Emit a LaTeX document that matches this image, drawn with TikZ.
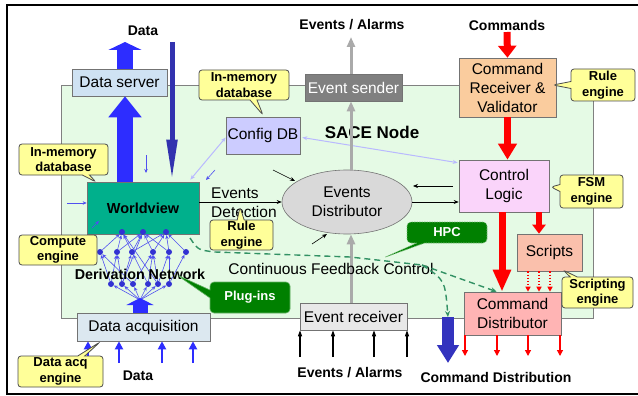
\documentclass[tikz,border=0pt]{standalone}
\usepackage{fontspec}
\setmainfont{Liberation Sans}
\usetikzlibrary{arrows.meta,shapes.geometric,shapes.callouts,calc}
\definecolor{sacegreen}{RGB}{229,250,229}
\definecolor{dsblue}{RGB}{207,226,243}
\definecolor{brightblue}{RGB}{45,45,255}
\definecolor{darkblue}{RGB}{50,50,175}
\definecolor{netblue}{RGB}{80,80,240}
\definecolor{dotblue}{RGB}{50,50,210}
\definecolor{wvgreen}{RGB}{0,176,140}
\definecolor{cfgblue}{RGB}{204,204,255}
\definecolor{lavline}{RGB}{185,185,255}
\definecolor{edgray}{RGB}{217,217,217}
\definecolor{esgray}{RGB}{128,128,128}
\definecolor{arrgray}{RGB}{170,170,170}
\definecolor{crpeach}{RGB}{250,204,158}
\definecolor{clpink}{RGB}{250,212,250}
\definecolor{scsalmon}{RGB}{250,192,172}
\definecolor{cdpink}{RGB}{255,180,180}
\definecolor{ergray}{RGB}{232,232,232}
\definecolor{dagray}{RGB}{220,232,240}
\definecolor{calyellow}{RGB}{255,255,153}
\definecolor{plugreen}{RGB}{0,128,0}
\definecolor{dashgreen}{RGB}{50,145,100}
\definecolor{cdblue}{RGB}{51,51,190}
\newcommand\boxfont{\fontsize{15.5}{19}\selectfont}
\newcommand\calfont{\fontsize{13}{15.5}\selectfont\bfseries}
\newcommand\lblfont{\fontsize{14}{17}\selectfont\bfseries}
\begin{document}
\begin{tikzpicture}[x=1pt,y=-1pt,
  box/.style={draw=black!55, line width=0.6pt, inner sep=0pt, align=center, font=\boxfont},
  cal/.style={rectangle callout, draw=black!70, fill=calyellow, rounded corners=3pt, line width=0.8pt, align=center, font=\calfont, inner sep=0pt, callout pointer width=7pt},
  gcal/.style={rectangle callout, draw=plugreen!60, fill=plugreen, rounded corners=4pt, line width=0.6pt, align=center, font=\calfont, text=white, inner sep=0pt, callout pointer width=8pt},
  lbl/.style={font=\lblfont, inner sep=0pt},
  txt/.style={font=\boxfont, inner sep=0pt},
  thinblue/.style={-{Stealth[length=4pt,width=3.5pt]}, draw=netblue, line width=0.6pt},
  thinblack/.style={-{Stealth[length=5pt,width=4pt]}, line width=0.6pt},
  lavarr/.style={{Stealth[length=5pt,width=4pt]}-{Stealth[length=5pt,width=4pt]}, draw=lavline, line width=1pt},
  grayarr/.style={-{Triangle[length=10pt,width=8pt]}, draw=arrgray, line width=3pt},
  redthick/.style={-{Triangle[length=12pt,width=18pt]}, draw=red, line width=7pt},
  redthin/.style={-{Triangle[length=6pt,width=6pt]}, draw=red, line width=1.2pt},
  datain/.style={-{Triangle[length=8pt,width=8pt]}, draw=brightblue, line width=2.5pt},
  evin/.style={-{Triangle[length=6pt,width=4pt]}, line width=1.2pt},
  dashg/.style={draw=dashgreen, line width=1.4pt, dash pattern=on 6pt off 4pt},
  dnode/.style={circle, fill=dotblue, inner sep=0pt, minimum size=6pt}
]
\useasboundingbox (0,0) rectangle (638,396);
\draw[line width=2pt] (638,5) -- (7,5) -- (7,394) -- (638,394);

% SACE node area
\node[draw=black!50, line width=0.6pt, fill=sacegreen, minimum width=532pt, minimum height=233pt, inner sep=0pt, anchor=north west] (sace) at (61,85) {};
\node[font=\fontsize{17}{20}\selectfont\bfseries, inner sep=0pt] (sacelbl) at (372,132) {SACE Node};

% coordinates for free ends
\coordinate (bx) at (125,0);
\coordinate (dataout) at (125,42);
\coordinate (din) at (172,42);
\coordinate (gx) at (351,0);
\coordinate (evout) at (351,37);
\coordinate (cmdin) at (507,32);
\coordinate (cdstart) at (448,317);
\coordinate (cdtip) at (448,363);

% boxes
\node[box, fill=dsblue, minimum width=95pt, minimum height=27pt] (ds) at (119.5,82.5) {Data server};
\node[box, fill=wvgreen, minimum width=112pt, minimum height=52pt, font=\fontsize{14.5}{17}\selectfont\bfseries] (wv) at (143,208) {Worldview};
\node[box, fill=cfgblue, minimum width=74pt, minimum height=37pt] (cfg) at (263,135.5) {Config DB};
\node[box, fill=esgray, text=white, minimum width=97pt, minimum height=27pt] (es) at (353.5,87.5) {Event sender};
\node[ellipse, draw=black!55, line width=0.6pt, fill=edgray, minimum width=130pt, minimum height=64pt, inner sep=0pt, align=center, font=\boxfont] (ed) at (347,202) {Events\\Distributor};
\node[box, fill=crpeach, minimum width=97pt, minimum height=59pt] (cr) at (507.5,87.5) {Command\\Receiver \&\\Validator};
\node[box, fill=clpink, minimum width=90pt, minimum height=52pt] (cl) at (504,186) {Control\\Logic};
\node[box, fill=scsalmon, minimum width=65pt, minimum height=37pt] (sc) at (549.5,252.5) {Scripts};
\node[box, fill=cdpink, minimum width=97pt, minimum height=43pt] (cd) at (512.5,313.5) {Command\\Distributor};
\node[box, fill=ergray, minimum width=107pt, minimum height=27pt] (er) at (353.5,316.5) {Event receiver};
\node[box, fill=dagray, minimum width=133pt, minimum height=28pt] (da) at (143.5,327) {Data acquisition};

% big blue arrows
\draw[-{Triangle[length=21pt,width=32pt]}, draw=brightblue, line width=16pt] (wv.north -| bx) -- (ds.south -| bx);
\draw[-{Triangle[length=8pt,width=33pt]}, draw=brightblue, line width=16pt] (ds.north -| bx) -- (dataout);
\draw[-{Triangle[length=42pt,width=10pt]}, draw=darkblue, line width=5pt] (din) -- (wv.north -| din);
\node[lbl] (datatop) at (143,31) {Data};

% small blue arrows around worldview
\coordinate (sa1) at (146,155); \coordinate (sa1e) at (146,173);
\coordinate (sa2) at (215,170); \coordinate (sa2e) at (206,180);
\coordinate (sa3) at (67,203);
\coordinate (sa4) at (92,228); \coordinate (sa4e) at (99,221);
\draw[thinblue] (sa1) -- (sa1e);
\draw[thinblue] (sa2) -- (sa2e);
\draw[thinblue] (sa3) -- (sa3 -| wv.west);
\draw[thinblue] (sa4) -- (sa4e);

% lavender links
\draw[lavarr] ($(wv.north east)+(-9,-2)$) -- ($(cfg.west)+(0,2)$);
\draw[lavarr] ($(cfg.east)+(2,2)$) -- ($(cl.north west)+(-1,3)$);

% derivation network
\foreach \n/\x in {a/122,b/143,c/166} \node[dnode] (r1\n) at (\x,232) {};
\foreach \n/\x in {a/100,b/117,c/132,d/153,e/169,f/186} \node[dnode] (r2\n) at (\x,252) {};
\foreach \n/\x in {a/111,b/122,c/133,d/148,e/158,f/169} \node[dnode] (r3\n) at (\x,284) {};
\coordinate (base) at (140,298);
\foreach \s/\t in {r2a/r1a,r2b/r1a,r2b/r1b,r2c/r1a,r2c/r1c,r2d/r1b,r2d/r1c,r2e/r1c,r2f/r1c,r2e/r1b,r2c/r1b}
  \draw[thinblue] (\s) -- (\t);
\foreach \s/\t in {r3a/r2a,r3a/r2b,r3b/r2b,r3b/r2c,r3c/r2a,r3c/r2d,r3d/r2c,r3d/r2d,r3e/r2e,r3e/r2d,r3f/r2f,r3f/r2e,r3b/r1b,r3e/r1a}
  \draw[thinblue] (\s) -- (\t);
\foreach \t in {r3a,r3b,r3c,r3d,r3e,r3f}
  \draw[thinblue] ($(base)+(0,2)$) -- (\t);
\draw[-{Triangle[length=7pt,width=27pt]}, draw=brightblue, line width=15pt] (da.north -| base) -- (base);
\node[font=\fontsize{14.3}{17}\selectfont\bfseries, inner sep=0pt] (dn) at (140,274) {Derivation Network};

% data inputs
\foreach \x in {88,119,162,193} {
  \coordinate (dI\x) at (\x,363);
  \draw[datain] (dI\x) -- (da.south -| dI\x);
}
\node[lbl] (databot) at (138,376) {Data};

% events arrows
\draw[thinblack] (wv.east |- ed) -- (ed.west);
\node[txt, anchor=west, align=left] (edet) at (211,202.5) {Events\\Detection};
\draw[thinblack] (ed.east) -- (ed.east -| cl.west);
\coordinate (ka) at (273,170); \coordinate (kae) at (295,181);
\coordinate (kb) at (312,244); \coordinate (kbe) at (327,234);
\coordinate (kc) at (453,186); \coordinate (kce) at (413,186);
\draw[thinblack] (ka) -- (kae);
\draw[thinblack] (kb) -- (kbe);
\draw[thinblack] (kc) -- (kce);

% gray event arrows
\draw[grayarr] (er.north -| gx) -- (ed.south -| gx);
\draw[grayarr] ($(ed.north -| gx)+(0,1)$) -- (es.south -| gx);
\draw[grayarr] (es.north -| gx) -- (evout);
\node[lbl] (evtop) at (352,25) {Events / Alarms};
\foreach \x in {300,333,374,407} {
  \coordinate (eI\x) at (\x,357);
  \draw[evin] (eI\x) -- (er.south -| eI\x);
}
\node[lbl] (evbot) at (350,373) {Events / Alarms};

% command path
\node[lbl] (cmdlbl) at (507,25) {Commands};
\draw[redthick] (cmdin) -- (cr.north);
\draw[-{Triangle[length=16pt,width=18pt]}, draw=red, line width=7pt] (cr.south) -- (cr.south |- cl.north);
\coordinate (bigred) at (502,0);
\draw[-{Triangle[length=22pt,width=17pt]}, draw=red, line width=7pt] (cl.south -| bigred) -- (cd.north -| bigred);
\coordinate (scr) at (539,0);
\draw[-{Triangle[length=9pt,width=13pt]}, draw=red, line width=6pt] (cl.south -| scr) -- (sc.north -| scr);
\foreach \x in {528,539,550} {
  \coordinate (sd\x) at (\x,0);
  \draw[redthin, dotted, -{Triangle[length=5pt,width=5pt]}] (sc.south -| sd\x) -- (cd.north -| sd\x);
}
\foreach \x in {465,497,528,560} {
  \coordinate (co\x) at (\x,356);
  \draw[redthin] (cd.south -| co\x) -- (co\x);
}

% continuous feedback
\node[txt] (cfc) at (331,269) {Continuous Feedback Control};
\coordinate (fb0) at (190,238);
\coordinate (fb1) at (215,252);
\coordinate (fb2) at (350,257);
\coordinate (fb3) at (422,265);
\draw[dashg] (fb0) .. controls (198,250) .. (fb1) -- (fb2) -- (fb3);
\draw[dashg, -{Stealth[length=6pt,width=5pt]}] (fb3) -- ($(cd.north west)+(33,0)$);
\draw[dashg, -{Stealth[length=6pt,width=5pt]}] (fb3) .. controls (445,280) .. (cdstart);
\draw[-{Triangle[length=18pt,width=21pt]}, draw=cdblue, line width=12pt] (cdstart) -- (cdtip);
\node[lbl] (cdlbl) at (496,377) {Command Distribution};

% callouts
\node[cal, minimum width=89pt, minimum height=31pt, callout absolute pointer={(96,182)}] (c1) at (63.5,159.5) {In-memory\\database};
\node[cal, minimum width=90pt, minimum height=30pt, callout absolute pointer={(263,115)}] (c2) at (244,85) {In-memory\\database};
\node[draw=black!70, fill=calyellow, rounded corners=3pt, line width=0.8pt, align=center, font=\calfont, inner sep=0pt, minimum width=78pt, minimum height=30pt] (c3) at (58,250) {Compute\\engine};
\node[cal, minimum width=85pt, minimum height=31pt, callout absolute pointer={(100,342)}] (c4) at (60.5,371.5) {Data acq\\engine};
\node[cal, minimum width=63pt, minimum height=30pt, callout absolute pointer={(240,207)}] (c5) at (241.5,235) {Rule\\engine};
\node[cal, minimum width=64pt, minimum height=32pt, callout absolute pointer={(553,85)}] (c6) at (603,85) {Rule\\engine};
\node[cal, minimum width=63pt, minimum height=33pt, callout absolute pointer={(551,187)}] (c7) at (591.5,191.5) {FSM\\engine};
\node[cal, minimum width=71pt, minimum height=31pt, callout absolute pointer={(563,270)}] (c8) at (597.5,292.5) {Scripting\\engine};
\node[gcal, minimum width=80pt, minimum height=31pt, callout absolute pointer={(177,275)}] (c9) at (250,297.5) {Plug-ins};
\node[gcal, dash pattern=on 1.5pt off 1pt, draw=plugreen!50!white, minimum width=80pt, minimum height=21pt, callout absolute pointer={(383,258)}] (c10) at (447,232.5) {HPC};
\end{tikzpicture}
\end{document}
